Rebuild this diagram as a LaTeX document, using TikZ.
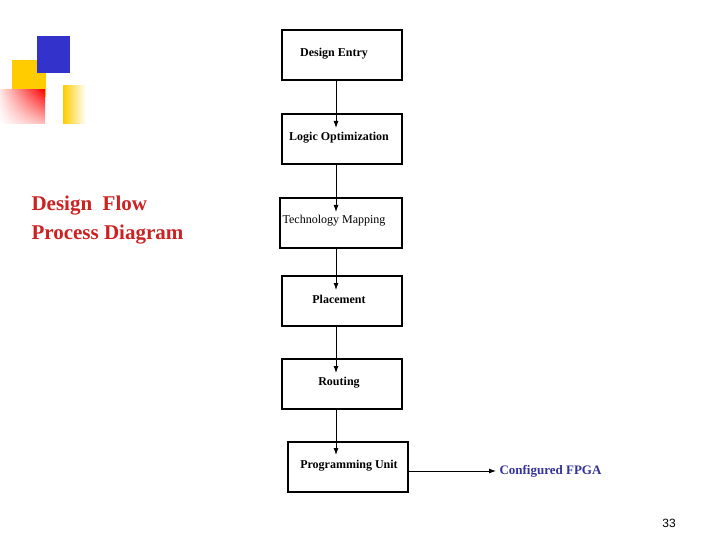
\documentclass[tikz,border=0pt]{standalone}
\usepackage{fontspec}
\setmainfont{Liberation Serif}
\newfontfamily\sansf{Liberation Sans}
\usetikzlibrary{calc,shadings,arrows.meta}
\definecolor{deco blue}{RGB}{51,51,204}
\definecolor{deco yellow}{RGB}{255,204,0}
\definecolor{flow red}{RGB}{204,34,34}
\definecolor{fpga blue}{RGB}{51,51,153}
\begin{document}
\begin{tikzpicture}[x=1pt,y=-1pt]
\tikzset{
	box/.style={draw=black, line width=1.6pt, minimum width=120pt, minimum height=50pt, inner sep=0pt},
	txt/.style={font=\bfseries\fontsize{12}{14}\selectfont, inner sep=1pt},
	flow/.style={-{Latex[length=7pt,width=5pt]}, line width=0.9pt}
}
\useasboundingbox (0,0) rectangle (720,540);

% decoration
\fill[deco yellow] (12,60) rectangle (46,97);
\fill[deco blue] (37,36) rectangle (70,73);
\shade[upper right=red, upper left=red!10, lower left=white, lower right=red!25] (0,90) rectangle (45,124);
\shade[left color=deco yellow, right color=white] (63,86) rectangle (86,124);

% title
\node[anchor=west, text=flow red, font=\bfseries\fontsize{21}{29}\selectfont, align=left] (title) at (28,220) {Design~ Flow\\Process Diagram};

% boxes
\node[box] (entry) at (342,55) {};
\node[txt] (entry_t) at (334,54) {Design Entry};
\node[box] (logic) at (342,139) {};
\node[txt] (logic_t) at (339,138) {Logic Optimization};
\node[box, minimum width=122pt] (tech) at (341,223) {};
\node[font=\fontsize{12}{14}\selectfont, inner sep=1pt] (tech_t) at (334,221) {Technology Mapping};
\node[box] (place) at (342,301) {};
\node[txt] (place_t) at (339,299) {Placement};
\node[box] (route) at (342,384) {};
\node[txt] (route_t) at (339,383) {Routing};
\node[box] (prog) at (348,467) {};
\node[txt] (prog_t) at (349,466) {Programming Unit};
\node[anchor=west, font=\bfseries\fontsize{13}{15}\selectfont, text=fpga blue] (fpga) at (496,471) {Configured FPGA};

% arrows
\draw[flow] (entry.south -| 336,0) -- (336,128);
\draw[flow] (logic.south -| 336,0) -- (336,212);
\draw[flow] (tech.south -| 336,0) -- (336,290);
\draw[flow] (place.south -| 336,0) -- (336,373);
\draw[flow] (route.south -| 336,0) -- (336,455);
\draw[flow] (prog.east |- fpga) -- (fpga.west);

% page number
\node[font=\sansf\fontsize{12}{14}\selectfont] (page) at (669,523) {33};
\end{tikzpicture}
\end{document}
